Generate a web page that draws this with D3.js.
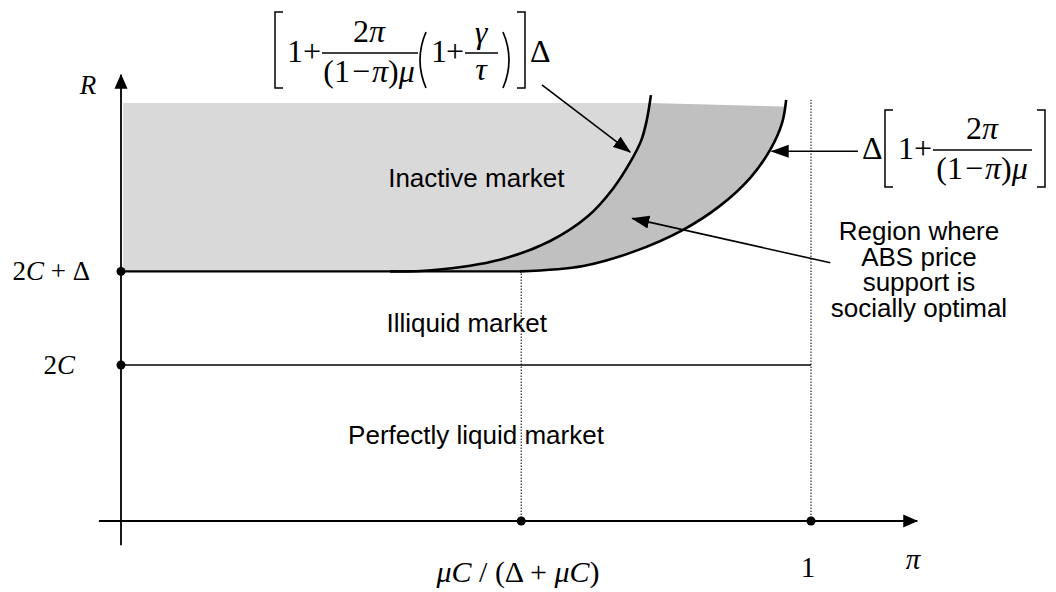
<!DOCTYPE html>
<html>
<head>
<meta charset="utf-8">
<script src="https://cdn.jsdelivr.net/npm/d3@7"></script>
<style>
  html, body { margin: 0; padding: 0; background: #fff; }
  svg text { fill: #000; }
  .sans { font-family: "Liberation Sans", Arial, sans-serif; font-size: 26px; }
  .serif { font-family: "Liberation Serif", "Times New Roman", serif; }
</style>
</head>
<body>
<div id="chart"></div>
<script>
// (pi, R) in model units: C = 1, delta = 1.2, so 2C = 2 and 2C + delta = 3.2
const levels = [2, 3.2];
const levelLabels = [
  [["2", 0], ["C", 1]],
  [["2", 0], ["C", 1], [" + Δ", 0]],
];
const piMarks = [0.58, 1];
const piMarkLabels = [
  [["μ", 1], ["C", 1], [" / (Δ + ", 0], ["μ", 1], ["C", 1], [")", 0]],
  [["1", 0]],
];

// boundary with gamma/tau (inner) and without it (outer)
const innerCurve = [
  [0.39, 3.2], [0.45, 3.215], [0.549, 3.35], [0.622, 3.59], [0.677, 3.91],
  [0.713, 4.26], [0.738, 4.6], [0.754, 4.88], [0.762, 5.14], [0.768, 5.46],
];
const outerCurve = [
  [0.578, 3.2], [0.67, 3.27], [0.742, 3.45], [0.814, 3.73], [0.868, 4.04],
  [0.912, 4.4], [0.941, 4.76], [0.958, 5.1], [0.964, 5.4],
];
const shadeTop = [[0.003, 5.36], [0.768, 5.36], [0.975, 5.31]];

const regionLabels = [
  { text: "Inactive market", pi: 0.515, R: 4.4 },
  { text: "Illiquid market", pi: 0.501, R: 2.54 },
  { text: "Perfectly liquid market", pi: 0.5145, R: 1.1 },
];
const noteLines = ["Region where", "ABS price", "support is", "socially optimal"];

// pointer arrows: [from, to]
const pointers = [
  [[0.61, 5.59], [0.738, 4.73]],
  [[1.068, 4.74], [0.943, 4.74]],
  [[1.028, 3.31], [0.741, 3.88]],
];

const width = 1056;
const height = 592;

const x = d3.scaleLinear().domain([0, 1]).range([121, 811]);
const y = d3.scaleLinear().domain([0, 2]).range([521, 365]);

const svg = d3
  .select("#chart")
  .append("svg")
  .attr("width", width)
  .attr("height", height)
  .attr("viewBox", [0, 0, width, height]);

const defs = svg.append("defs");

defs
  .append("marker")
  .attr("id", "ptr")
  .attr("markerUnits", "userSpaceOnUse")
  .attr("viewBox", "0 -7 18 14")
  .attr("refX", 17)
  .attr("refY", 0)
  .attr("markerWidth", 18)
  .attr("markerHeight", 14)
  .attr("orient", "auto")
  .append("path")
  .attr("d", "M0,-6.5L18,0L0,6.5Z")
  .attr("fill", "#000");

defs
  .append("marker")
  .attr("id", "axisHead")
  .attr("markerUnits", "userSpaceOnUse")
  .attr("viewBox", "0 -7 15 14")
  .attr("refX", 14)
  .attr("refY", 0)
  .attr("markerWidth", 15)
  .attr("markerHeight", 14)
  .attr("orient", "auto")
  .append("path")
  .attr("d", "M0,-6.5L15,0L0,6.5Z")
  .attr("fill", "#000");

// shaded regions are cut by the slanted top edge
const clipPts = shadeTop.map(([p, r]) => [x(p), y(r)]);
clipPts.push([x(0.975), y(levels[1]) + 1], [x(0.003), y(levels[1]) + 1]);
defs
  .append("clipPath")
  .attr("id", "shadeClip")
  .append("polygon")
  .attr("points", clipPts.map((d) => d.join(",")).join(" "));

const line = d3
  .line()
  .x((d) => x(d[0]))
  .y((d) => y(d[1]))
  .curve(d3.curveCatmullRom.alpha(0.5));

const shade = svg.append("g").attr("clip-path", "url(#shadeClip)");

const innerTop = innerCurve[innerCurve.length - 1];
shade
  .append("path")
  .attr("d", `M${x(0.003)},${y(levels[1])}L${x(0.003)},${y(5.5)}L${x(innerTop[0])},${y(5.5)}` +
    line(innerCurve.slice().reverse()).replace(/^M/, "L") + "Z")
  .attr("fill", "#d9d9d9");

shade
  .append("path")
  .attr("d", line(innerCurve) + line(outerCurve.slice().reverse()).replace(/^M/, "L") + "Z")
  .attr("fill", "#c0c0c0");

// dotted guides
svg
  .selectAll(".guide")
  .data([[piMarks[0], levels[1]], [piMarks[1], 5.4]])
  .join("line")
  .attr("x1", (d) => x(d[0]))
  .attr("x2", (d) => x(d[0]))
  .attr("y1", y(0))
  .attr("y2", (d) => y(d[1]))
  .attr("stroke", "#000")
  .attr("stroke-width", 1)
  .attr("stroke-dasharray", "1.5,1.5");

// level lines
svg
  .append("line")
  .attr("x1", x(0))
  .attr("x2", x(piMarks[1]))
  .attr("y1", y(levels[0]))
  .attr("y2", y(levels[0]))
  .attr("stroke", "#000")
  .attr("stroke-width", 1.6);

svg
  .append("line")
  .attr("x1", x(0))
  .attr("x2", x(piMarks[0]))
  .attr("y1", y(levels[1]))
  .attr("y2", y(levels[1]))
  .attr("stroke", "#000")
  .attr("stroke-width", 2.4);

// boundary curves
svg
  .selectAll(".curve")
  .data([innerCurve, outerCurve])
  .join("path")
  .attr("d", line)
  .attr("fill", "none")
  .attr("stroke", "#000")
  .attr("stroke-width", 2.6);

// axes
svg
  .append("line")
  .attr("x1", x(0))
  .attr("x2", x(0))
  .attr("y1", y(-0.31))
  .attr("y2", y(5.72))
  .attr("stroke", "#000")
  .attr("stroke-width", 1.8)
  .attr("marker-end", "url(#axisHead)");

svg
  .append("line")
  .attr("x1", x(-0.032))
  .attr("x2", x(1.154))
  .attr("y1", y(0))
  .attr("y2", y(0))
  .attr("stroke", "#000")
  .attr("stroke-width", 1.8)
  .attr("marker-end", "url(#axisHead)");

// dots
const dots = [...levels.map((r) => [0, r]), ...piMarks.map((p) => [p, 0])];
svg
  .selectAll(".dot")
  .data(dots)
  .join("circle")
  .attr("cx", (d) => x(d[0]))
  .attr("cy", (d) => y(d[1]))
  .attr("r", 4.5)
  .attr("fill", "#000");

// segments: [text, italic, dx]
function rich(sel, segments) {
  segments.forEach(([t, it, dx]) => {
    const s = sel.append("tspan").attr("font-style", it ? "italic" : "normal").text(t);
    if (dx) s.attr("dx", dx);
  });
  return sel;
}

// axis labels
const serif = svg.append("g").attr("class", "serif").attr("font-size", 27);

levels.forEach((r, i) => {
  rich(
    serif.append("text").attr("x", i === 0 ? 75 : 90).attr("y", y(r) + 9).attr("text-anchor", "end"),
    levelLabels[i]
  );
});

rich(serif.append("text").attr("x", 518).attr("y", 582).attr("font-size", 30).attr("text-anchor", "middle"), piMarkLabels[0]);
rich(serif.append("text").attr("x", x(piMarks[1]) - 3).attr("y", 577).attr("font-size", 29).attr("text-anchor", "middle"), piMarkLabels[1]);

serif.append("text").attr("x", 88).attr("y", 94).attr("text-anchor", "middle").attr("font-style", "italic").text("R");
serif.append("text").attr("x", 913).attr("y", 569).attr("font-size", 29).attr("text-anchor", "middle").attr("font-style", "italic").text("π");

// region labels
svg
  .selectAll(".region")
  .data(regionLabels)
  .join("text")
  .attr("class", "sans")
  .attr("x", (d) => x(d.pi))
  .attr("y", (d) => y(d.R) + 9)
  .attr("text-anchor", "middle")
  .text((d) => d.text);

svg
  .append("text")
  .attr("class", "sans")
  .attr("text-anchor", "middle")
  .selectAll("tspan")
  .data(noteLines)
  .join("tspan")
  .attr("x", 919)
  .attr("y", (d, i) => 240 + i * 25.5)
  .text((d) => d);

// pointers
svg
  .selectAll(".pointer")
  .data(pointers)
  .join("line")
  .attr("x1", (d) => x(d[0][0]))
  .attr("y1", (d) => y(d[0][1]))
  .attr("x2", (d) => x(d[1][0]))
  .attr("y2", (d) => y(d[1][1]))
  .attr("stroke", "#000")
  .attr("stroke-width", 1.6)
  .attr("marker-end", "url(#ptr)");

// formulas
function formula(ox, oy, items) {
  const g = svg.append("g").attr("class", "serif").attr("font-size", 32).attr("transform", `translate(${ox},${oy})`);
  items.forEach((it) => {
    if (it.t === "txt") {
      rich(g.append("text").attr("x", it.x).attr("y", it.y).attr("text-anchor", it.a || "start"), it.s);
    } else if (it.t === "bar") {
      g.append("line").attr("x1", it.x1).attr("x2", it.x2).attr("y1", 0).attr("y2", 0)
        .attr("stroke", "#000").attr("stroke-width", 1.4);
    } else if (it.t === "brk") {
      const d = it.side === "l"
        ? `M${it.x + 8},${it.y0}H${it.x}V${it.y1}H${it.x + 8}`
        : `M${it.x},${it.y0}H${it.x + 8}V${it.y1}H${it.x}`;
      g.append("path").attr("d", d).attr("fill", "none").attr("stroke", "#000").attr("stroke-width", 1.5);
    } else if (it.t === "par") {
      const m = (it.y0 + it.y1) / 2;
      const d = it.side === "l"
        ? `M${it.x + 9},${it.y0}Q${it.x - 3},${m} ${it.x + 9},${it.y1}`
        : `M${it.x},${it.y0}Q${it.x + 12},${m} ${it.x},${it.y1}`;
      g.append("path").attr("d", d).attr("fill", "none").attr("stroke", "#000").attr("stroke-width", 1.7);
    }
  });
}

const numer = [["2", 0], ["π", 1]];
const denom = [["(1", 0], ["−", 0, 2], ["π", 1, 2], [")", 0], ["μ", 1]];

formula(275, 53, [
  { t: "brk", side: "l", x: 0, y0: -41, y1: 35 },
  { t: "txt", x: 12, y: 9, s: [["1", 0]] },
  { t: "txt", x: 28, y: 9, s: [["+", 0]] },
  { t: "bar", x1: 47, x2: 143 },
  { t: "txt", x: 94, y: -11, a: "middle", s: numer },
  { t: "txt", x: 94, y: 29, a: "middle", s: denom },
  { t: "par", side: "l", x: 142, y0: -21, y1: 35 },
  { t: "txt", x: 156, y: 9, s: [["1", 0]] },
  { t: "txt", x: 171, y: 9, s: [["+", 0]] },
  { t: "bar", x1: 190, x2: 223 },
  { t: "txt", x: 206, y: -10, a: "middle", s: [["γ", 1]] },
  { t: "txt", x: 206, y: 27, a: "middle", s: [["τ", 1]] },
  { t: "par", side: "r", x: 228, y0: -21, y1: 35 },
  { t: "brk", side: "r", x: 242, y0: -41, y1: 35 },
  { t: "txt", x: 255, y: 9, s: [["Δ", 0]] },
]);

formula(862, 150, [
  { t: "txt", x: 0, y: 9, s: [["Δ", 0]] },
  { t: "brk", side: "l", x: 23, y0: -40, y1: 37 },
  { t: "txt", x: 36, y: 9, s: [["1", 0]] },
  { t: "txt", x: 52, y: 9, s: [["+", 0]] },
  { t: "bar", x1: 71, x2: 170 },
  { t: "txt", x: 120, y: -11, a: "middle", s: numer },
  { t: "txt", x: 120, y: 29, a: "middle", s: denom },
  { t: "brk", side: "r", x: 175, y0: -40, y1: 37 },
]);
</script>
</body>
</html>
